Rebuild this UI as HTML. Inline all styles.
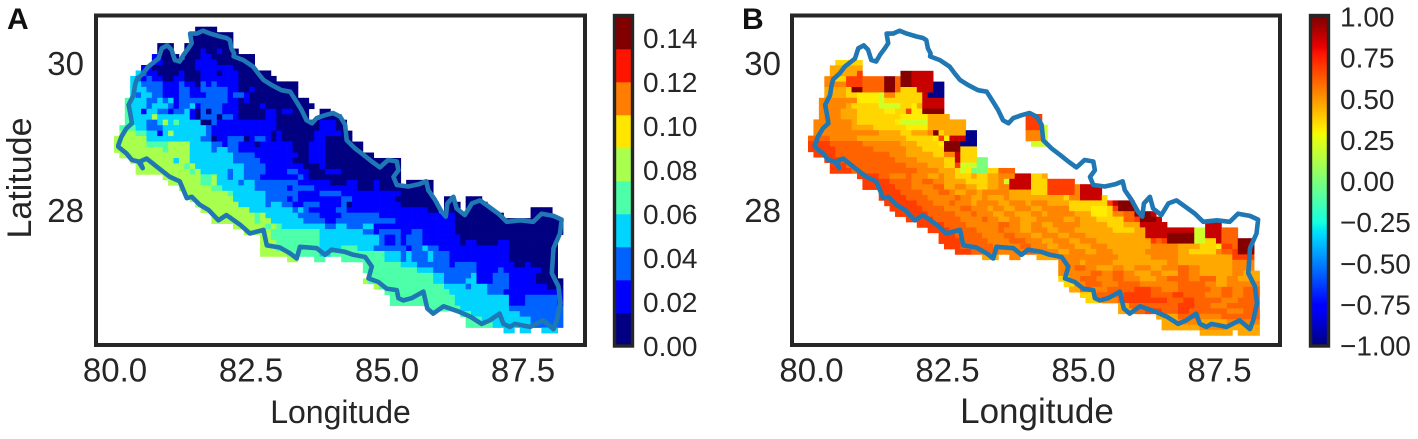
<!DOCTYPE html>
<html lang="en">
<head>
<meta charset="utf-8">
<title>Nepal maps</title>
<style>
html,body{margin:0;padding:0;background:#fff;}
svg{display:block;}
text{font-family:"Liberation Sans",sans-serif;fill:#262626;}
.tick{font-size:33px;}
.cb{font-size:28px;}
.axis{font-size:32px;}
.panel{font-size:30px;font-weight:bold;fill:#111;}
.frame{fill:none;stroke:#262626;stroke-width:4;}
.outline{fill:none;stroke:#1f77b4;stroke-width:4.6;stroke-linejoin:round;}
</style>
</head>
<body>
<svg id="figure" xmlns="http://www.w3.org/2000/svg" width="1418" height="439" viewBox="0 0 1418 439">
  <g id="panelA"></g>
  <g id="panelB"></g>
  <rect class="frame" x="96" y="15.5" width="489" height="329.5"/>
  <rect class="frame" x="792" y="15.5" width="488" height="329.5"/>
  <text class="panel" x="7" y="29">A</text>
  <text class="panel" x="742" y="29">B</text>
  <text class="axis" x="340.5" y="423" text-anchor="middle">Longitude</text>
  <text class="axis" style="font-size:35px" x="1037" y="423" text-anchor="middle">Longitude</text>
  <text class="axis" style="font-size:34px" transform="translate(31,178) rotate(-90)" text-anchor="middle">Latitude</text>
</svg>
<script>
// Shared axis ticks
const lonTicks = [80.0, 82.5, 85.0, 87.5];
const latTicks = [30, 28];
const colorbarTicksA = [0.00, 0.02, 0.04, 0.06, 0.08, 0.10, 0.12, 0.14];
const colorbarTicksB = [-1.00, -0.75, -0.50, -0.25, 0.00, 0.25, 0.50, 0.75, 1.00];

// Border of the country, degrees
const boundaryLon = [80.06,80.12,80.21,80.31,80.28,80.25,80.34,80.37,80.40,80.52,80.61,80.80,80.86,80.96,81.04,81.10,81.19,81.26,81.35,81.41,81.38,81.50,81.62,81.75,81.93,82.05,82.11,82.14,82.19,82.18,82.36,82.54,82.63,82.73,82.88,83.06,83.22,83.34,83.43,83.52,83.62,83.71,83.86,84.01,84.14,84.23,84.26,84.41,84.57,84.72,84.87,85.02,85.18,85.21,85.12,85.18,85.39,85.58,85.72,85.76,85.88,86.00,86.08,86.11,86.22,86.28,86.43,86.56,86.71,86.86,87.05,87.20,87.45,87.69,87.84,88.06,88.21,88.18,88.06,88.03,88.15,88.19,88.12,88.06,87.87,87.63,87.35,87.26,87.14,87.07,86.89,86.74,86.53,86.31,86.04,85.85,85.74,85.67,85.45,85.30,85.21,85.18,84.99,84.84,84.66,84.72,84.60,84.38,84.23,83.98,83.86,83.71,83.40,83.34,83.22,83.03,82.79,82.73,82.48,82.30,82.05,81.90,81.72,81.56,81.41,81.32,81.19,81.01,80.80,80.58,80.46,80.51,80.43,80.31,80.21,80.06];
const boundaryLat = [28.88,29.00,29.11,29.18,29.32,29.43,29.56,29.70,29.78,29.86,29.95,30.06,30.20,30.24,30.18,30.04,30.02,30.11,30.20,30.27,30.40,30.40,30.44,30.40,30.36,30.34,30.31,30.20,30.13,30.09,30.04,29.95,29.86,29.77,29.70,29.63,29.61,29.47,29.36,29.22,29.18,29.25,29.29,29.32,29.27,29.16,28.95,28.84,28.75,28.66,28.58,28.68,28.66,28.54,28.45,28.34,28.32,28.35,28.39,28.27,28.14,27.98,27.91,28.09,28.18,28.02,27.93,28.09,28.13,28.05,27.95,27.84,27.86,27.84,27.95,27.92,27.87,27.68,27.48,27.14,26.96,26.73,26.50,26.38,26.50,26.41,26.45,26.41,26.45,26.59,26.50,26.45,26.55,26.62,26.69,26.59,26.66,26.89,26.80,26.77,26.80,26.91,26.93,27.02,27.07,27.23,27.36,27.39,27.43,27.46,27.39,27.48,27.50,27.34,27.41,27.49,27.52,27.73,27.68,27.80,27.93,27.86,28.00,28.07,28.18,28.16,28.39,28.45,28.57,28.70,28.66,28.57,28.66,28.68,28.77,28.86];

// Panel A cell values for each level code
const levelValuesA = [0.0075,0.0225,0.0375,0.0525,0.0675,0.0825,0.0975];
// Panel A rows: each token = level code + end column; "." = no data
const gridRowsA = [
".15 019",
".14 022",
".14 022",
".8 011 .13 022",
".8 011 .13 016 117 019 120 023",
".7 18 012 .13 016 118 026",
".7 19 013 015 119 026",
".5 17 015 122 026",
".4 35 26 18 012 113 016 119 020 123 029",
".3 34 25 16 27 19 011 113 016 123 030",
".3 35 29 112 213 115 016 217 118 219 123 034",
".3 36 29 112 214 116 221 123 025 126 034",
".3 34 25 37 29 112 214 117 221 122 224 125 034",
".2 43 36 28 39 210 311 112 221 123 024 125 036",
".2 43 36 27 310 211 112 214 315 116 220 123 027 128 037",
".2 43 35 16 38 210 111 213 314 115 016 217 018 220 123 028 130 031 133 036 .38 040",
".2 43 37 58 314 115 016 219 020 222 123 028 130 036 .38 042",
".2 43 36 28 39 510 311 412 316 018 219 130 037 038 141 043",
".1 44 36 29 317 218 130 038 141 043",
".1 54 46 38 19 310 511 317 218 120 129 030 131 037 142 044",
".0 56 316 218 019 120 121 224 025 126 228 129 030 131 037 139 044",
".0 56 410 514 318 220 121 223 124 126 027 133 036 139 046",
".0 59 410 514 318 219 321 223 127 133 036 139 046",
".1 514 322 226 134 036 139 048",
".3 511 312 514 322 227 133 036 139 053",
".4 513 414 515 324 228 135 038 139 053",
".4 514 415 516 321 222 324 228 132 234 136 039 142 053",
".9 516 418 519 321 222 324 227 134 235 136 053",
".10 516 418 519 323 224 326 234 140 043 145 048 149 053 .54 059",
".12 518 420 326 232 133 237 143 145 048 149 059",
".13 521 422 328 234 138 242 144 153 059",
".14 522 328 232 133 234 138 142 244 152 053 059 .61 063 .65 068",
".15 523 328 229 331 233 135 238 142 243 044 153 060 .61 064 .65 069",
".16 525 333 234 335 236 141 243 147 158 060 .61 064 .65 070 .77 081",
".18 526 427 528 334 238 142 249 163 072 .77 081",
".18 526 427 529 335 239 141 252 163 083",
".22 528 429 530 431 339 241 343 246 348 163 083",
".24 529 438 346 248 149 253 155 257 163 083",
".27 529 438 349 250 152 253 154 257 164 082",
".27 530 438 349 250 152 253 154 257 164 065 167 071 173 082",
".27 530 438 342 445 348 254 155 257 358 260 161 173 082",
".27 532 438 340 450 353 254 355 258 359 262 173 082",
".32 534 .37 439 .42 450 353 254 355 258 359 262 173 082",
".46 453 356 262 163 267 174 076 177 082",
".46 456 359 267 171 272 179 082",
".47 459 361 265 266 367 170 273 178 082",
".46 547 459 361 265 366 367 170 273 178 079 083",
".48 549 461 365 266 369 273 180 083",
".50 462 369 272 183",
".51 463 373 176 282 183",
".51 463 373 176 282 183",
".58 464 373 283",
".64 466 375 283",
".65 468 377 283",
".65 470 377 283",
".72 374 .75 377 .79 382"
];

// Panel B cell values for each level code (code "a" = 10)
const levelValuesB = [0.0,0.2,0.32,0.366,0.464,0.54,0.61,0.69,0.876,0.99,-0.98];
const gridRowsB = [
".5 310",
".4 410",
".4 49 710 .17 919 823",
".3 55 37 710 614 916 617 919 823",
".3 57 710 614 916 617 919 823 a25",
".3 47 38 910 614 916 617 320 823 a25",
".3 47 39 213 114 516 321 822 a25",
".2 59 213 114 317 321 825",
".2 57 48 313 117 319 220 421 825",
".2 56 49 314 216 318 719 221 925",
".2 56 49 317 222 426 .40 743",
".1 58 49 316 217 122 429 .40 743",
".1 58 412 318 222 426 429 .40 743 144",
".1 57 513 417 319 422 523 924 325 426 429 a31 .40 543 144",
".0 64 59 418 323 224 725 226 829 a31 .40 543 144",
".0 74 610 517 420 324 225 928 a31 .41 144",
".0 75 612 518 421 325 928 331",
".1 75 615 518 423 325 527 828 331",
".3 76 616 520 425 327 828 331 033",
".4 77 618 522 425 327 728 131 033",
".4 78 620 524 427 328 129 230 033 335 638",
".9 713 615 518 619 522 424 525 427 328 330 431 333 435 538 841 343 444",
".10 715 618 619 521 623 525 427 429 333 435 536 137 841 344 749",
".10 716 619 521 523 625 427 529 431 333 435 537 841 344 749 550 854",
".13 717 621 524 626 527 429 531 432 537 441 344 749 550 854",
".13 718 622 525 527 628 530 432 533 436 537 441 447 348 549 550 854 355",
".14 720 623 526 627 530 431 533 535 437 540 441 544 447 448 352 355 756 857 960",
".15 721 625 528 630 533 434 536 438 541 443 545 548 349 352 255 356 757 960",
".16 722 627 530 631 534 436 538 441 543 444 547 549 452 255 356 558 660 963 864",
".18 723 628 532 633 535 437 539 442 545 547 449 550 453 355 358 660 761 964 865",
".20 725 629 533 535 637 539 441 543 445 548 550 451 455 358 461 866 .73 876",
".22 726 631 535 636 539 441 544 446 549 452 456 360 462 866 871 173 876 679",
".24 727 632 536 638 541 443 546 448 551 453 457 462 866 971 173 876 679",
".24 728 633 537 640 543 445 548 450 553 455 458 463 764 665 766 971 173 375 876 679 982",
".25 728 634 539 641 544 446 549 452 555 457 460 463 568 472 375 276 778 679 982",
".27 730 635 540 642 546 448 551 453 556 459 462 568 470 372 375 576 678 779 982",
".32 435 .37 539 .42 446 552 557 463 568 472 475 478 779 782",
".46 550 451 553 556 458 460 463 466 568 472 475 478 579 582",
".46 549 651 553 456 558 460 563 465 568 670 572 475 478 579 582",
".46 552 654 556 658 560 463 565 468 670 572 475 478 580 483",
".46 348 550 653 556 658 561 464 566 670 572 675 477 579 483",
".47 349 551 654 557 659 661 564 568 670 673 575 477 580 583",
".48 450 652 555 657 660 763 665 568 671 674 576 678 580 683",
".50 353 656 658 760 763 665 667 769 673 576 678 580 683",
".51 354 557 658 760 764 766 669 771 674 676 579 683",
".57 459 660 664 668 771 674 577 683",
".57 460 662 765 668 770 674 677 580 683",
".64 468 672 576 683",
".65 468 572 477 583",
".65 472 577 483",
".72 478 .79 483"
];

const SVGNS = "http://www.w3.org/2000/svg";

function lerp(stops, t) {
  for (let i = 1; i < stops.length; i++) {
    if (t <= stops[i][0]) {
      const a = stops[i - 1], b = stops[i];
      return a[1] + (b[1] - a[1]) * (t - a[0]) / (b[0] - a[0]);
    }
  }
  return stops[stops.length - 1][1];
}
function jet(t) {
  t = Math.max(0, Math.min(1, t));
  const r = lerp([[0,0],[0.35,0],[0.66,1],[0.89,1],[1,0.5]], t);
  const g = lerp([[0,0],[0.125,0],[0.375,1],[0.64,1],[0.91,0],[1,0]], t);
  const b = lerp([[0,0.5],[0.11,1],[0.34,1],[0.65,0],[1,0]], t);
  return "rgb(" + Math.round(r * 255) + "," + Math.round(g * 255) + "," + Math.round(b * 255) + ")";
}
function colorA(v) {
  const bin = Math.max(0, Math.min(9, Math.floor(v / 0.015)));
  return jet(bin / 9);
}
function colorB(v) {
  return jet((v + 1) / 2);
}

function drawCells(parent, rows, values, color, x0, y0, cw, ch) {
  rows.forEach(function (row, r) {
    let col = 0;
    row.split(" ").forEach(function (tok) {
      const code = tok[0];
      const end = parseInt(tok.slice(1), 10);
      if (code !== ".") {
        const v = values[parseInt(code, 11)];
        for (let c = col; c < end; c++) {
          const rect = document.createElementNS(SVGNS, "rect");
          rect.setAttribute("x", x0 + c * cw);
          rect.setAttribute("y", y0 + r * ch);
          rect.setAttribute("width", cw + 0.35);
          rect.setAttribute("height", ch + 0.35);
          rect.setAttribute("fill", color(v));
          
          
          parent.appendChild(rect);
        }
      }
      col = end;
    });
  });
}

function drawOutline(parent, xScale, yScale) {
  const pts = boundaryLon.map(function (lon, i) {
    return xScale(lon).toFixed(1) + "," + yScale(boundaryLat[i]).toFixed(1);
  });
  const poly = document.createElementNS(SVGNS, "polygon");
  poly.setAttribute("points", pts.join(" "));
  poly.setAttribute("class", "outline");
  
  
  parent.appendChild(poly);
}

function addText(parent, cls, x, y, str, anchor) {
  const t = document.createElementNS(SVGNS, "text");
  t.setAttribute("class", cls);
  t.setAttribute("x", x);
  t.setAttribute("y", y);
  if (anchor) t.setAttribute("text-anchor", anchor);
  t.textContent = str;
  parent.appendChild(t);
  return t;
}

function drawAxes(parent, xScale, yScale, latRight) {
  lonTicks.forEach(function (lon) {
    const t = addText(parent, "tick", xScale(lon), 381.5, lon.toFixed(1), "middle");
    
    
  });
  latTicks.forEach(function (lat) {
    const t = addText(parent, "tick", latRight, yScale(lat) + 12, String(lat), "end");
    
    
  });
}

function drawColorbarFrame(parent, x, w, top, bottom) {
  const f = document.createElementNS(SVGNS, "rect");
  f.setAttribute("x", x);
  f.setAttribute("y", top);
  f.setAttribute("width", w);
  f.setAttribute("height", bottom - top);
  f.setAttribute("fill", "none");
  f.setAttribute("stroke", "#262626");
  f.setAttribute("stroke-width", "3.4");
  
  
  parent.appendChild(f);
}

// ---------- Panel A ----------
const gA = document.getElementById("panelA");
const xA = function (lon) { return 115 + (lon - 80) * 54.4; };
const yA = function (lat) { return 63 + (30 - lat) * 73.5; };
drawCells(gA, gridRowsA, levelValuesA, colorA, 114, 26.7, 5.41, 5.47);
drawOutline(gA, xA, yA);
drawAxes(gA, xA, yA, 84);

const cbAy = function (v) { return 346 - (v / 0.15) * 330; };
for (let i = 0; i < 10; i++) {
  const seg = document.createElementNS(SVGNS, "rect");
  seg.setAttribute("x", 614);
  seg.setAttribute("y", cbAy((i + 1) * 0.015));
  seg.setAttribute("width", 19);
  seg.setAttribute("height", cbAy(i * 0.015) - cbAy((i + 1) * 0.015) + 0.3);
  seg.setAttribute("fill", colorA((i + 0.5) * 0.015));
  
  
  gA.appendChild(seg);
}
drawColorbarFrame(gA, 614.5, 18, 15.5, 346);
colorbarTicksA.forEach(function (v) {
  const t = addText(gA, "cb", 643, cbAy(v) + 10, v.toFixed(2));
  
  
});

// ---------- Panel B ----------
const gB = document.getElementById("panelB");
const xB = function (lon) { return 811.5 + (lon - 80) * 54.4; };
const yB = function (lat) { return 63 + (30 - lat) * 73.5; };
drawCells(gB, gridRowsB, levelValuesB, colorB, 808, 60, 5.44, 5.4);
drawOutline(gB, xB, yB);
drawAxes(gB, xB, yB, 781);

const cbBy = function (v) { return 181 - v * 164.5; };
for (let i = 0; i < 256; i++) {
  const v0 = -1 + i * 2 / 256;
  const v1 = -1 + (i + 1) * 2 / 256;
  const seg = document.createElementNS(SVGNS, "rect");
  seg.setAttribute("x", 1310);
  seg.setAttribute("y", cbBy(v1));
  seg.setAttribute("width", 19);
  seg.setAttribute("height", cbBy(v0) - cbBy(v1) + 0.4);
  seg.setAttribute("fill", colorB((v0 + v1) / 2));
  
  
  gB.appendChild(seg);
}
drawColorbarFrame(gB, 1310.5, 18, 15.5, 346);
colorbarTicksB.forEach(function (v) {
  const label = (v < 0 ? "\u2212" : "") + Math.abs(v).toFixed(2);
  const t = addText(gB, "cb", 1340, cbBy(v) + 10, label);
  
  
});
</script>
</body>
</html>
